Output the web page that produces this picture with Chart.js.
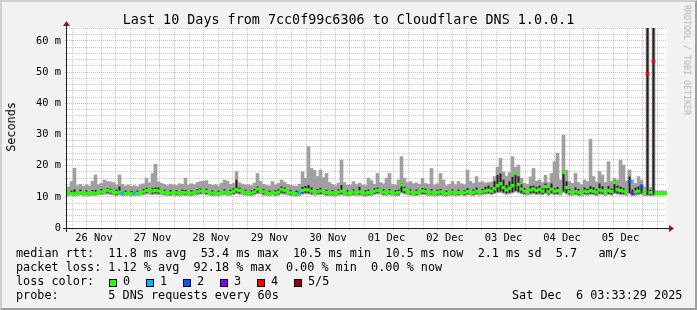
<!DOCTYPE html>
<html>
<head>
<meta charset="utf-8">
<title>Last 10 Days from 7cc0f99c6306 to Cloudflare DNS 1.0.0.1</title>
<script src="https://cdn.jsdelivr.net/npm/chart.js@4.4.1/dist/chart.umd.min.js"></script>
<style>
    html, body { margin: 0; padding: 0; background: #f2f2f2; }
    #graph { position: relative; width: 697px; height: 310px; background: #f2f2f2; overflow: hidden;
             font-family: "DejaVu Sans Mono", monospace; color: #000; }
    #shade { position: absolute; left: 0; top: 0; width: 697px; height: 310px; box-sizing: border-box;
             border-top: 2px solid #cfcfcf; border-left: 2px solid #cfcfcf;
             border-right: 2px solid #9e9e9e; border-bottom: 2px solid #9e9e9e; }
    #chart { position: absolute; left: 0; top: 0; }
    .txt { position: absolute; white-space: pre; line-height: 1; }
    .row { font-size: 11.8px; }
    .box { position: absolute; width: 8px; height: 8px; box-sizing: border-box; border: 1px solid #000; }
</style>
</head>
<body>
<div id="graph">
    <div id="shade"></div>
    <canvas id="chart" width="697" height="310"></canvas>
    <div class="txt" id="title" style="left:0; width:697px; text-align:center; top:12.7px; font-size:13.4px;">Last 10 Days from 7cc0f99c6306 to Cloudflare DNS 1.0.0.1</div>
    <div class="txt" style="left:-38.1px; top:121.1px; width:100px; height:11.8px; text-align:center; font-size:11.8px; transform:rotate(-90deg);">Seconds</div>
    <div class="txt" style="left:611.9px; top:55.9px; width:150px; height:8.3px; text-align:center; font-size:8.3px; color:#b4b4b4; transform:rotate(90deg);">RRDTOOL / TOBI OETIKER</div>
    <div class="txt row" style="left:16px; top:248px;">median rtt:  11.8 ms avg  53.4 ms max  10.5 ms min  10.5 ms now  2.1 ms sd  5.7   am/s</div>
    <div class="txt row" style="left:16px; top:262px;">packet loss: 1.12 % avg  92.18 % max  0.00 % min  0.00 % now</div>
    <div class="txt row" style="left:16px; top:276px;">loss color:</div>
    <div id="lossLegend"></div>
    <div class="txt row" style="left:16px; top:290px;">probe:       5 DNS requests every 60s</div>
    <div class="txt row" style="left:512px; top:290px;">Sat Dec  6 03:33:29 2025</div>
</div>

<script>
// one bin = 72 minutes, 200 bins = 10 days
const median = [
    11.0, 11.1, 11.0, 11.2, 11.3, 11.1, 11.2, 11.0, 11.3, 11.2,
    11.4, 11.6, 11.9, 12.1, 11.8, 11.5, 11.4, 11.5, 11.2, 11.1,
    11.3, 11.0, 11.2, 11.1, 11.3, 11.6, 12.0, 12.1, 11.9, 12.0,
    11.9, 11.7, 11.4, 11.3, 11.2, 11.4, 11.3, 11.2, 11.4, 11.3,
    11.3, 11.2, 11.4, 11.6, 11.9, 12.0, 11.7, 11.4, 11.2, 11.3,
    11.1, 11.4, 11.5, 11.3, 11.4, 11.8, 12.3, 12.0, 11.6, 11.4,
    11.3, 11.2, 11.6, 12.5, 12.2, 11.6, 11.3, 11.1, 11.4, 11.2,
    11.5, 12.4, 12.1, 11.6, 11.3, 11.2, 11.0, 11.4, 12.0, 12.3,
    12.2, 11.8, 11.5, 11.6, 11.9, 11.7, 11.4, 11.2, 11.3, 11.1,
    11.5, 11.8, 11.4, 11.2, 11.3, 11.5, 11.3, 11.6, 11.3, 11.2,
    11.4, 11.3, 11.8, 12.1, 11.9, 11.5, 11.4, 11.6, 11.3, 11.2,
    11.4, 13.8, 12.3, 11.7, 11.5, 11.3, 11.4, 11.6, 11.9, 11.7,
    11.3, 11.5, 11.2, 11.4, 11.6, 11.3, 11.1, 11.3, 11.5, 11.2,
    11.4, 11.6, 11.3, 11.7, 11.5, 11.4, 11.8, 11.5, 11.6, 11.9,
    12.1, 11.8, 12.6, 13.6, 14.2, 13.0, 12.2, 12.8, 13.6, 17.5,
    14.0, 12.5, 11.8, 11.6, 12.2, 12.5, 12.0, 12.4, 11.8, 13.3,
    11.6, 12.4, 11.8, 12.0, 11.6, 17.8, 13.0, 11.6, 11.4, 11.7,
    11.5, 11.3, 11.8, 11.6, 12.0, 11.8, 11.5, 12.2, 11.9, 11.4,
    12.0, 11.7, 14.6, 12.3, 12.0, 11.8, 11.5, 14.9, 11.2, 11.6,
    11.8, 13.3, 11.5, 49.4, 11.4, 53.4, 11.0, 11.0, 11.0, 11.0
];
const smokeHigh = [
    13.2, 14.9, 19.2, 13.6, 14.0, 13.4, 13.8, 13.5, 15.0, 17.0,
    13.9, 14.3, 15.4, 14.9, 14.8, 14.6, 13.8, 17.0, 14.0, 13.5,
    13.8, 13.4, 13.6, 13.3, 13.9, 14.2, 16.0, 14.5, 17.5, 20.5,
    14.8, 14.3, 14.0, 13.6, 14.1, 13.8, 13.6, 14.2, 14.0, 16.0,
    13.8, 14.2, 13.9, 14.6, 14.9, 15.0, 15.2, 14.0, 13.7, 13.9,
    13.5, 14.4, 15.4, 15.0, 14.0, 14.3, 18.1, 14.5, 14.1, 13.8,
    13.9, 13.6, 14.4, 17.5, 15.0, 14.0, 13.7, 13.5, 14.9, 13.8,
    14.3, 15.4, 14.7, 14.0, 13.7, 13.5, 13.4, 14.0, 18.0, 16.0,
    26.1, 19.1, 18.5, 16.5, 18.6, 16.2, 17.5, 14.6, 14.0, 13.6,
    14.4, 21.8, 14.6, 13.7, 13.8, 14.9, 13.9, 14.4, 13.8, 13.6,
    16.0, 15.2, 14.0, 17.5, 14.6, 14.2, 16.0, 17.5, 14.0, 13.8,
    15.4, 22.9, 16.0, 14.6, 14.9, 14.2, 14.5, 14.0, 16.0, 14.3,
    14.0, 19.1, 13.8, 14.2, 17.5, 15.4, 13.6, 14.0, 14.9, 13.9,
    14.9, 14.2, 13.9, 18.6, 15.0, 14.3, 16.5, 14.6, 14.9, 14.4,
    14.6, 14.8, 16.5, 19.5, 22.4, 18.0, 16.5, 17.8, 22.9, 19.5,
    20.2, 16.0, 14.3, 14.0, 16.4, 19.1, 15.0, 15.4, 14.6, 16.9,
    14.6, 17.5, 21.3, 24.0, 15.4, 29.8, 18.5, 14.9, 14.3, 17.5,
    14.6, 13.9, 15.4, 14.9, 28.5, 16.5, 14.8, 18.1, 17.0, 14.6,
    21.3, 15.0, 16.0, 15.4, 21.8, 20.2, 15.0, 18.6, 15.4, 14.3,
    16.5, 15.4, 13.2, 70.0, 13.0, 70.0, 11.9, 11.8, 11.9, 11.8
];
// top of the dark inner smoke, 0 where it stays hidden under the median
const darkHigh = [
    0, 12.0, 12.4, 0, 12.3, 0, 12.1, 0, 12.2, 12.2,
    0, 12.5, 0, 12.8, 12.6, 0, 12.3, 13.3, 0, 12.0,
    0, 11.9, 0, 12.0, 0, 12.5, 12.9, 0, 12.8, 13.0,
    13.0, 0, 12.3, 0, 12.2, 0, 12.2, 0, 12.3, 12.2,
    0, 12.1, 0, 12.5, 12.7, 0, 12.6, 0, 12.1, 0,
    12.0, 0, 12.4, 0, 12.3, 12.7, 15.5, 12.9, 0, 12.3,
    0, 12.1, 12.5, 13.3, 0, 12.5, 0, 12.0, 0, 12.1,
    12.4, 13.3, 13.0, 0, 12.2, 0, 12.0, 0, 13.2, 13.5,
    13.8, 13.0, 0, 12.5, 12.9, 0, 12.3, 0, 12.2, 0,
    12.4, 13.8, 0, 12.1, 0, 12.4, 0, 13.2, 0, 12.1,
    12.3, 0, 12.7, 13.0, 0, 12.4, 0, 12.5, 0, 12.1,
    12.3, 14.3, 13.2, 0, 12.4, 0, 12.3, 0, 12.8, 12.6,
    0, 12.5, 0, 12.3, 12.5, 0, 12.0, 0, 12.4, 0,
    12.3, 0, 12.2, 12.8, 0, 12.3, 13.0, 0, 12.5, 13.2,
    13.6, 13.0, 15.0, 17.0, 17.5, 15.5, 13.8, 15.0, 16.4, 18.0,
    16.6, 14.0, 12.8, 0, 13.5, 13.6, 13.2, 13.6, 12.7, 14.3,
    12.8, 14.3, 12.7, 13.2, 0, 18.2, 15.0, 12.5, 0, 13.0,
    12.5, 0, 13.0, 12.6, 13.4, 13.0, 12.4, 14.3, 13.4, 0,
    13.5, 12.6, 15.2, 13.6, 13.3, 12.8, 0, 16.5, 12.3, 13.0,
    13.3, 14.0, 0, 70.0, 12.2, 70.0, 0, 0, 0, 0
];
const smokeLow = [
    10.4, 10.5, 10.3, 10.4, 10.6, 10.4, 10.5, 10.3, 10.5, 10.4,
    10.6, 10.7, 10.8, 10.9, 10.7, 10.5, 10.4, 10.6, 10.3, 10.4,
    10.5, 10.3, 10.4, 10.4, 10.5, 10.6, 10.9, 10.8, 10.7, 10.8,
    10.7, 10.6, 10.5, 10.4, 10.3, 10.5, 10.4, 10.3, 10.5, 10.4,
    10.4, 10.3, 10.5, 10.6, 10.8, 10.9, 10.6, 10.5, 10.3, 10.4,
    10.3, 10.5, 10.6, 10.4, 10.5, 10.7, 11.0, 10.8, 10.6, 10.5,
    10.4, 10.3, 10.6, 11.0, 10.9, 10.5, 10.4, 10.3, 10.5, 10.3,
    10.5, 10.9, 10.8, 10.6, 10.4, 10.3, 10.2, 10.4, 10.8, 11.0,
    10.9, 10.7, 10.5, 10.6, 10.7, 10.6, 10.4, 10.3, 10.4, 10.2,
    10.5, 10.6, 10.4, 10.3, 10.4, 10.5, 10.4, 10.5, 10.3, 10.2,
    10.4, 10.3, 10.7, 10.9, 10.8, 10.5, 10.4, 10.6, 10.4, 10.3,
    10.4, 11.2, 10.9, 10.6, 10.5, 10.4, 10.4, 10.6, 10.7, 10.6,
    10.3, 10.5, 10.2, 10.4, 10.5, 10.3, 10.2, 10.4, 10.5, 10.3,
    10.4, 10.6, 10.3, 10.6, 10.5, 10.4, 10.7, 10.5, 10.6, 10.8,
    10.9, 10.7, 11.0, 11.3, 11.4, 11.1, 10.8, 11.0, 11.2, 11.6,
    11.3, 10.9, 10.6, 10.5, 10.8, 10.9, 10.7, 10.8, 10.6, 11.0,
    10.5, 10.9, 10.6, 10.7, 10.5, 11.4, 10.9, 10.5, 10.4, 10.6,
    10.4, 10.3, 10.6, 10.5, 10.7, 10.6, 10.4, 10.8, 10.7, 10.4,
    10.7, 10.5, 11.0, 10.8, 10.6, 10.6, 10.4, 10.9, 10.3, 10.5,
    10.6, 10.8, 10.4, 10.4, 10.3, 10.4, 10.6, 10.6, 10.6, 10.6
];
// lost pings out of 5 per bin
const loss = [
    0, 0, 0, 0, 0, 0, 0, 0, 0, 0,
    0, 0, 0, 0, 0, 0, 0, 0, 1, 0,
    0, 0, 1, 0, 0, 0, 0, 0, 0, 0,
    0, 0, 0, 0, 0, 0, 0, 0, 0, 0,
    0, 0, 0, 0, 0, 0, 0, 0, 0, 0,
    0, 0, 0, 0, 0, 0, 0, 0, 0, 0,
    0, 0, 0, 0, 0, 0, 0, 0, 0, 0,
    0, 0, 0, 0, 0, 0, 0, 1, 0, 0,
    0, 0, 0, 0, 0, 0, 0, 0, 0, 0,
    0, 0, 0, 0, 0, 0, 0, 0, 0, 0,
    0, 0, 0, 0, 0, 0, 0, 0, 0, 0,
    0, 0, 0, 0, 0, 0, 0, 0, 0, 0,
    0, 0, 0, 0, 0, 0, 0, 0, 0, 0,
    0, 0, 0, 0, 0, 0, 0, 0, 0, 0,
    0, 0, 0, 0, 0, 0, 0, 0, 0, 0,
    0, 0, 0, 0, 0, 0, 0, 0, 0, 0,
    0, 0, 0, 0, 0, 0, 0, 0, 0, 0,
    0, 0, 0, 0, 0, 0, 0, 0, 0, 0,
    0, 0, 0, 0, 0, 0, 0, 2, 3, 0,
    0, 2, 0, 4, 0, 4, 0, 0, 0, 0
];
const lossLabels = ["0", "1", "2", "3", "4", "5/5"];
const lossColors = ["#26ff00", "#00b8ff", "#0059ff", "#7e00ff", "#ff0000", "#a10000"];
const dayLabels = ["26 Nov", "27 Nov", "28 Nov", "29 Nov", "30 Nov", "01 Dec", "02 Dec", "03 Dec", "04 Dec", "05 Dec"];
const yTickLabels = ["0", "10 m", "20 m", "30 m", "40 m", "50 m", "60 m"];

const MAJOR = "rgba(222, 79, 79, 0.45)";
const MINOR = "rgba(143, 143, 143, 0.5)";
const AXIS_FONT = { family: "DejaVu Sans Mono", size: 10.4 };

// grid colour: major lines at midnight (x) or every 10 ms (y)
function xGridColor(c) {
    if (!c.tick) return MINOR;
    return (c.tick.value - 20) % 24 === 0 ? MAJOR : MINOR;
}
function yGridColor(c) {
    if (!c.tick) return MINOR;
    return c.tick.value % 10 === 0 ? MAJOR : MINOR;
}

document.addEventListener("DOMContentLoaded", function () {
    // loss colour legend boxes
    const legend = document.getElementById("lossLegend");
    lossLabels.forEach((label, k) => {
        const box = document.createElement("div");
        box.className = "box";
        box.style.left = (109 + 37 * k) + "px";
        box.style.top = "279px";
        box.style.background = lossColors[k];
        legend.appendChild(box);
        const txt = document.createElement("div");
        txt.className = "txt row";
        txt.style.left = (123 + 37 * k) + "px";
        txt.style.top = "276px";
        txt.textContent = label;
        legend.appendChild(txt);
    });

    // white canvas behind the plot, axes and arrows on top
    const frame = {
        id: "frame",
        beforeDraw(chart) {
            const { ctx, chartArea: a } = chart;
            ctx.save();
            ctx.fillStyle = "#ffffff";
            ctx.fillRect(a.left, a.top, a.right - a.left, a.bottom - a.top);
            ctx.restore();
        },
        afterDraw(chart) {
            const { ctx, chartArea: a } = chart;
            ctx.save();
            ctx.strokeStyle = "#1f1f1f";
            ctx.lineWidth = 1;
            ctx.beginPath();
            ctx.moveTo(a.left - 4, a.bottom + 0.5);
            ctx.lineTo(a.right + 4, a.bottom + 0.5);
            ctx.moveTo(a.left - 0.5, a.bottom + 4);
            ctx.lineTo(a.left - 0.5, a.top - 4);
            ctx.stroke();
            ctx.fillStyle = "#801f1f";
            ctx.beginPath();
            ctx.moveTo(a.right + 2, a.bottom - 3);
            ctx.lineTo(a.right + 2, a.bottom + 4);
            ctx.lineTo(a.right + 7, a.bottom + 0.5);
            ctx.closePath();
            ctx.fill();
            ctx.beginPath();
            ctx.moveTo(a.left - 4, a.top - 2);
            ctx.lineTo(a.left + 3, a.top - 2);
            ctx.lineTo(a.left - 0.5, a.top - 7);
            ctx.closePath();
            ctx.fill();
            ctx.restore();
        },
    };

    const barBase = {
        grouped: false,
        categoryPercentage: 1,
        borderWidth: 0,
        clip: 0,
        xAxisID: "x",
        yAxisID: "y",
    };

    new Chart(document.getElementById("chart"), {
        type: "bar",
        data: {
            labels: median.map((_, i) => i),
            datasets: [
                Object.assign({
                    label: "median rtt",
                    data: median.map((m) => [m - 0.4, m + 0.4]),
                    backgroundColor: loss.map((l) => lossColors[l]),
                    barPercentage: 1,
                    order: 1,
                }, barBase),
                Object.assign({
                    label: "inner smoke",
                    data: darkHigh.map((d, i) => (d > 0 ? [smokeLow[i] + 0.3, d] : null)),
                    backgroundColor: "#222222",
                    barPercentage: 0.67,
                    order: 2,
                }, barBase),
                Object.assign({
                    label: "smoke",
                    data: smokeHigh.map((h, i) => [smokeLow[i], h]),
                    backgroundColor: "#a0a0a0",
                    barPercentage: 1,
                    order: 3,
                }, barBase),
            ],
        },
        options: {
            responsive: false,
            animation: false,
            devicePixelRatio: 1,
            events: [],
            layout: { padding: { left: 0, top: 28, right: 30, bottom: 62 } },
            plugins: {
                legend: { display: false },
                tooltip: { enabled: false },
            },
            scales: {
                x: { type: "category", display: false, offset: true },
                xt: {
                    type: "linear",
                    position: "bottom",
                    min: 0,
                    max: 240,
                    afterBuildTicks: (scale) => {
                        const ticks = [];
                        for (let h = 2; h < 240; h += 6) ticks.push({ value: h });
                        scale.ticks = ticks;
                    },
                    afterFit: (scale) => { scale.height = 20; },
                    grid: {
                        color: xGridColor,
                        tickColor: xGridColor,
                        lineWidth: 1,
                        tickLength: 2,
                    },
                    border: { display: false, dash: [1, 1] },
                    ticks: {
                        autoSkip: false,
                        maxRotation: 0,
                        padding: 2,
                        color: "#000",
                        font: AXIS_FONT,
                        callback: (v) => {
                            const k = (v - 8) / 24;
                            return Number.isInteger(k) ? dayLabels[k] : "";
                        },
                    },
                },
                y: {
                    min: 0,
                    max: 64.17,
                    afterBuildTicks: (scale) => {
                        const ticks = [];
                        for (let v = 0; v <= 64; v += 2) ticks.push({ value: v });
                        scale.ticks = ticks;
                    },
                    afterFit: (scale) => { scale.width = 67; },
                    grid: {
                        color: yGridColor,
                        tickColor: yGridColor,
                        lineWidth: 1,
                        tickLength: 2,
                    },
                    border: { display: false, dash: [1, 1] },
                    ticks: {
                        autoSkip: false,
                        padding: 4,
                        color: "#000",
                        font: AXIS_FONT,
                        callback: (v) => (v % 10 === 0 ? yTickLabels[v / 10] : ""),
                    },
                },
            },
        },
        plugins: [frame],
    });
});
</script>
</body>
</html>
